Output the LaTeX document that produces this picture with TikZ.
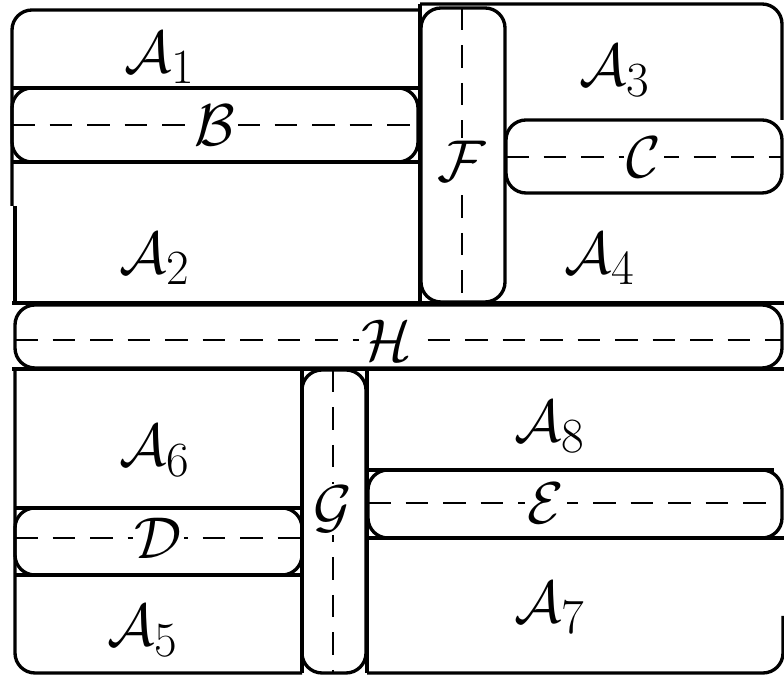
\documentclass[tikz,border=0pt]{standalone}
\usepackage{amsmath}
\usepackage{amsfonts}
\usepackage{tikz}
\usetikzlibrary{arrows,calc}

\begin{document}
\begin{tikzpicture}[>=latex',
		edge/.style = {line width=1.9pt},
		band/.style = {line width=1.9pt, rounded corners=0.4cm},
		cut/.style = {line width=1.1pt, dash pattern=on 0.45cm off 0.3cm},
		lbl/.style = {fill = white, inner sep=1pt, font=\Huge, scale=1.35}]
			\useasboundingbox (0,0) rectangle (15.68,13.52);
			\draw[band] (8.4,13.32) -- (0.24,13.32) -- (0.24,9.4);
			\draw[edge] (0.3,9.4) -- (0.3,7.46);
			\draw[edge] (0.24,11.76) -- (8.4,11.76);
			\draw[edge] (0.24,10.28) -- (8.4,10.28);
			\draw[band] (0.24,10.28) rectangle (8.36,11.76);
			\draw[cut] (0.24,11.02) -- node[lbl, midway] (labB) {$\mathcal{B}$} (8.36,11.02);
			\draw[edge] (8.4,13.44) -- (8.4,7.46);
			\draw[band] (8.42,7.48) rectangle (10.1,13.36);
			\draw[cut] (9.24,13.36) -- node[lbl, pos=0.52] (labF) {$\mathcal{F}$} (9.24,7.48);
			\draw[band] (8.4,13.44) -- (15.64,13.44) -- (15.64,11.12);
			\draw[band] (10.12,9.66) rectangle (15.64,11.12);
			\draw[cut] (10.12,10.38) -- node[lbl, midway] (labC) {$\mathcal{C}$} (15.64,10.38);
			\draw[edge] (0.24,7.46) -- (15.68,7.46);
			\draw[edge] (0.24,6.14) -- (15.68,6.14);
			\draw[band] (0.3,6.16) rectangle (15.64,7.42);
			\draw[cut] (0.3,6.72) -- node[lbl, pos=0.485] (labH) {$\mathcal{H}$} (15.64,6.72);
			\draw[band] (6.04,0.06) -- (0.3,0.06) -- (0.3,6.14);
			\draw[edge] (0.3,3.36) -- (6.04,3.36);
			\draw[edge] (0.3,2.02) -- (6.04,2.02);
			\draw[band] (0.3,2.02) rectangle (6.04,3.36);
			\draw[cut] (0.3,2.76) -- node[lbl, midway] (labD) {$\mathcal{D}$} (6.04,2.76);
			\draw[edge] (6.04,6.14) -- (6.04,0.06);
			\draw[edge] (7.34,6.14) -- (7.34,0.06);
			\draw[band] (6.04,0.06) rectangle (7.32,6.12);
			\draw[cut] (6.66,6.12) -- node[lbl, pos=0.46] (labG) {$\mathcal{G}$} (6.66,0.06);
			\draw[band] (7.34,0.06) -- (15.66,0.06) -- (15.66,1.2);
			\draw[edge] (7.34,4.12) -- (15.48,4.12);
			\draw[edge] (7.34,2.76) -- (15.68,2.76);
			\draw[band] (7.36,2.76) rectangle (15.64,4.12);
			\draw[cut] (7.36,3.46) -- node[lbl, pos=0.43] (labE) {$\mathcal{E}$} (15.64,3.46);
			\node[lbl] (a1) at (3.2,12.36) {$\mathcal{A}_1$};
			\node[lbl] (a2) at (3.1,8.34) {$\mathcal{A}_2$};
			\node[lbl] (a3) at (12.3,12.1) {$\mathcal{A}_3$};
			\node[lbl] (a4) at (12.0,8.34) {$\mathcal{A}_4$};
			\node[lbl] (a6) at (3.1,4.5) {$\mathcal{A}_6$};
			\node[lbl] (a5) at (2.85,0.9) {$\mathcal{A}_5$};
			\node[lbl] (a8) at (11.0,4.98) {$\mathcal{A}_8$};
			\node[lbl] (a7) at (11.0,1.36) {$\mathcal{A}_7$};
		\end{tikzpicture}
\end{document}
